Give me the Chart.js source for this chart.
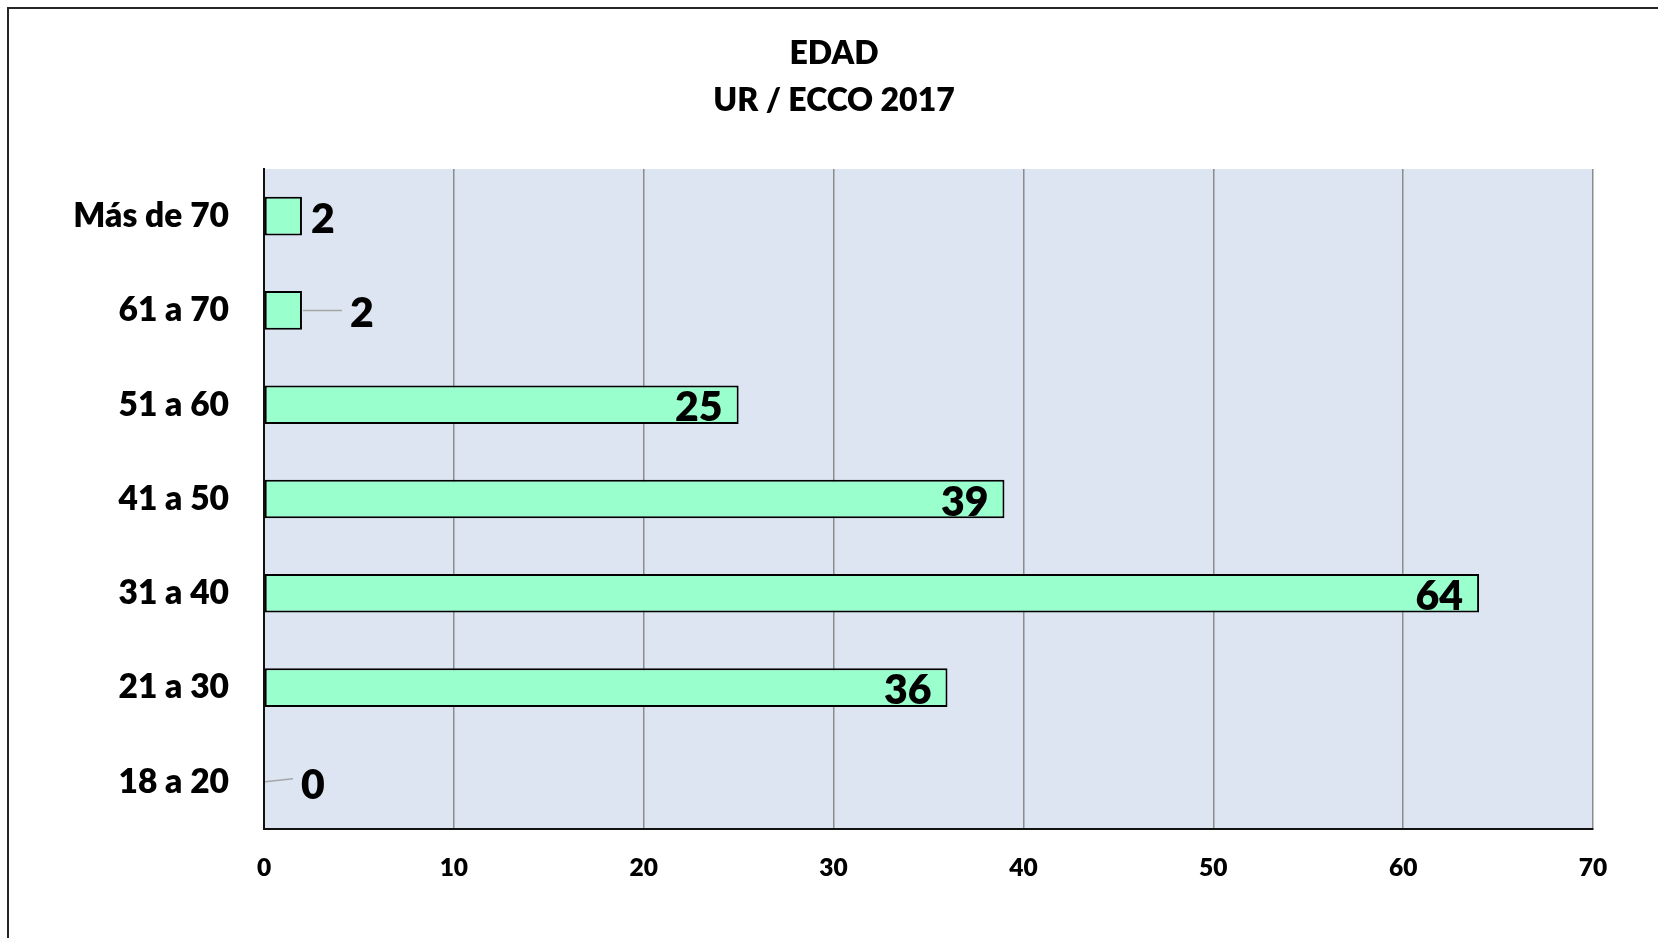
<!DOCTYPE html>
<html>
<head>
<meta charset="utf-8">
<title>EDAD – UR / ECCO 2017</title>
<script src="https://cdn.jsdelivr.net/npm/chart.js@4/dist/chart.umd.min.js"></script>
<style>
  html, body { margin: 0; padding: 0; background: #ffffff; overflow: hidden; }
  #wrap { position: relative; width: 1658px; height: 938px; }
  #frame {
    position: absolute; left: 7px; top: 7px; width: 1700px; height: 1000px;
    border: 2px solid #262626; box-sizing: border-box;
  }
  #chart { position: absolute; left: 0; top: 0; }
</style>
</head>
<body>
<div id="wrap">
  <div id="frame"></div>
  <canvas id="chart" width="1658" height="938"></canvas>
</div>
<script>
// Age groups and respondent counts
const ageGroups = ['18 a 20', '21 a 30', '31 a 40', '41 a 50', '51 a 60', '61 a 70', 'Más de 70'];
const counts = [0, 36, 64, 39, 25, 2, 2];
const axisTicks = [0, 10, 20, 30, 40, 50, 60, 70];
const titleLines = ['EDAD', 'UR / ECCO 2017'];

// How each value label sits relative to its bar end
const labelPlacement = [
  { mode: 'leader', len: 28, dy: -3, gap: 8 },
  { mode: 'inside', pad: 16 },
  { mode: 'inside', pad: 16 },
  { mode: 'inside', pad: 16 },
  { mode: 'inside', pad: 16 },
  { mode: 'leader', len: 39, dy: 0, gap: 8 },
  { mode: 'outside', gap: 8 }
];

const FONT = 'Lato, "Open Sans", "DejaVu Sans", sans-serif';
const WEIGHT = '800';

// Light blue-grey plot background
const plotBackground = {
  id: 'plotBackground',
  beforeDraw(chart) {
    const { ctx, chartArea: a } = chart;
    ctx.save();
    ctx.fillStyle = '#DCE5F1';
    ctx.fillRect(a.left, a.top, a.right - a.left, a.bottom - a.top);
    ctx.restore();
  }
};

// Bold value labels, some with grey leader lines
const valueLabels = {
  id: 'valueLabels',
  afterDatasetsDraw(chart) {
    const { ctx } = chart;
    const xs = chart.scales.x;
    const meta = chart.getDatasetMeta(0);
    ctx.save();
    ctx.font = WEIGHT + ' 41px ' + FONT;
    ctx.fillStyle = '#000';
    ctx.textBaseline = 'middle';
    meta.data.forEach((bar, i) => {
      const v = counts[i];
      const end = xs.getPixelForValue(v);
      const y = bar.y + 3.5;
      const p = labelPlacement[i];
      if (p.mode === 'inside') {
        ctx.textAlign = 'right';
        ctx.fillText(String(v), end - p.pad, y);
      } else if (p.mode === 'outside') {
        ctx.textAlign = 'left';
        ctx.fillText(String(v), end + 1 + p.gap, y);
      } else {
        const x0 = end + 1;
        const x1 = x0 + p.len;
        ctx.strokeStyle = '#A6A6A6';
        ctx.lineWidth = 1.5;
        ctx.beginPath();
        ctx.moveTo(x0, bar.y);
        ctx.lineTo(x1, bar.y + p.dy);
        ctx.stroke();
        ctx.textAlign = 'left';
        ctx.fillText(String(v), x1 + p.gap, y);
      }
    });
    ctx.restore();
  }
};

new Chart(document.getElementById('chart'), {
  type: 'bar',
  data: {
    labels: ageGroups,
    datasets: [{
      data: counts,
      backgroundColor: '#99FFCC',
      borderColor: '#000000',
      borderWidth: 2,
      borderSkipped: false,
      categoryPercentage: 1,
      barPercentage: 0.41
    }]
  },
  options: {
    indexAxis: 'y',
    responsive: false,
    animation: false,
    events: [],
    layout: { padding: { left: 75, right: 65, top: 12, bottom: 0 } },
    plugins: {
      legend: { display: false },
      tooltip: { enabled: false },
      title: {
        display: true,
        text: titleLines,
        color: '#000',
        font: { family: FONT, size: 32, weight: WEIGHT, lineHeight: 46.5 / 32 },
        padding: { top: 18.5, bottom: 45.5 }
      }
    },
    scales: {
      x: {
        min: 0,
        max: 70,
        afterBuildTicks(scale) {
          scale.ticks = axisTicks.map(v => ({ value: v }));
        },
        afterFit(scale) { scale.height = 109; },
        grid: {
          drawTicks: false,
          color: ctx => (ctx.tick && ctx.tick.value === 0 ? 'rgba(0,0,0,0)' : '#8C8C8C'),
          lineWidth: 1.5
        },
        border: { display: true, color: '#111', width: 2 },
        ticks: {
          color: '#000',
          padding: 24,
          font: { family: FONT, size: 24.5, weight: WEIGHT }
        }
      },
      y: {
        reverse: true,
        afterFit(scale) { scale.width = 264 - 75; },
        grid: { display: false, drawTicks: false },
        border: { display: true, color: '#111', width: 2 },
        ticks: {
          color: '#000',
          padding: 35,
          font: { family: FONT, size: 33.5, weight: WEIGHT }
        }
      }
    }
  },
  plugins: [plotBackground, valueLabels]
});
</script>
</body>
</html>
